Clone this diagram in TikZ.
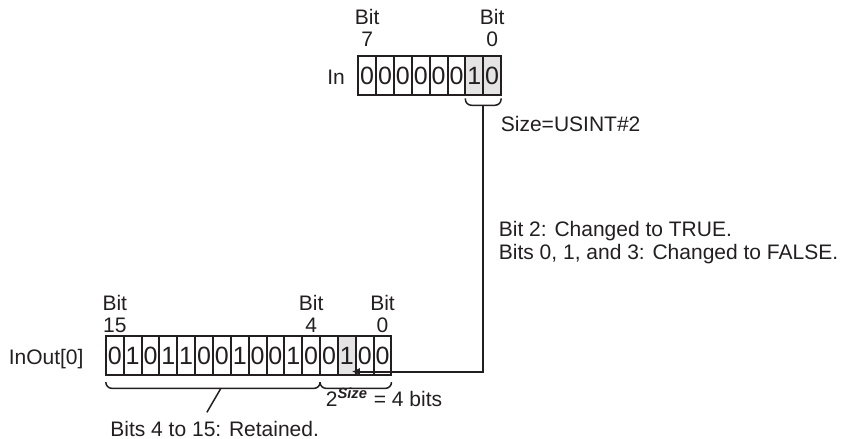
\documentclass[tikz,border=0pt]{standalone}
\usepackage{fontspec}
\setmainfont{Liberation Sans}
\usetikzlibrary{arrows.meta,positioning}
\definecolor{ink}{HTML}{231F20}
\definecolor{shade}{HTML}{E4E4E4}

\begin{document}
\begin{tikzpicture}[x=0.5pt,y=-0.5pt,font=\fontsize{10.5}{11}\selectfont,color=ink,
        cell/.style={draw=ink,line width=1pt,minimum width=8.925pt,minimum height=19.75pt,
          inner sep=0pt,outer sep=0pt,font=\fontsize{12.5}{13}\selectfont},
        bitlbl/.style={align=center,inner sep=0pt},
        lbl/.style={inner sep=0pt},
        brk/.style={line width=0.75pt,rounded corners=3pt},
        ln/.style={line width=0.75pt},
        a/.style={-{Latex[length=4pt,width=3.6pt]},line width=1pt}]
  \useasboundingbox (0,0) rectangle (842,439);
  % In: bit 7 on the left
  \node[cell] (in1) at (367.2,75.5) {0};
  \foreach \v/\f [count=\k from 2,remember=\k as \j (initially 1)] in
      {0/white,0/white,0/white,0/white,0/white,1/shade,0/shade}
    \node[cell,fill=\f,right=0pt of in\j] (in\k) {\v};
  \node[lbl,base left=6.5pt of in1] (inname) {In};
  \node[bitlbl,above=4.2pt of in1] (in7lbl) {Bit\\7};
  \node[bitlbl,above=4.2pt of in8] (in0lbl) {Bit\\0};
  \draw[brk] ([yshift=-1.5pt]in7.south west) -- ([yshift=-5pt]in7.south west)
    -- ([yshift=-5pt]in8.south east) -- ([yshift=-1.5pt]in8.south east);
  \coordinate (szmid) at ([yshift=-5pt]in7.south east);
  \node[lbl,anchor=base west] (sizelbl) at (500.5,131) {Size=USINT\#2};
  % InOut[0]: bit 15 on the left
  \node[cell] (out1) at (114.8,355.4) {0};
  \foreach \v/\f [count=\k from 2,remember=\k as \j (initially 1)] in
      {1/white,0/white,1/white,1/white,0/white,0/white,1/white,0/white,
       0/white,1/white,0/white,0/white,1/shade,0/white,0/white}
    \node[cell,fill=\f,right=0pt of out\j] (out\k) {\v};
  \node[lbl,base left=11pt of out1] (inoutname) {InOut[0]};
  \node[bitlbl,above=1.5pt of out1] (out15lbl) {Bit\\15};
  \node[bitlbl,above=1.5pt of out12] (out4lbl) {Bit\\4};
  \node[bitlbl,above=1.5pt of out16] (out0lbl) {Bit\\0};
  % size -> bit 2
  \coordinate (tip) at ([xshift=-2pt,yshift=1.8pt]out14.south east);
  \draw[a] (szmid) |- (tip);
  \node[lbl,anchor=north west,align=left,font=\fontsize{10.5}{11.5}\selectfont] (chglbl)
    at (498.5,221) {Bit 2: Changed to TRUE.\\Bits 0, 1, and 3: Changed to FALSE.};
  % brackets under InOut[0]
  \draw[brk] ([yshift=-3.5pt]out1.south west) -- ([yshift=-6.6pt]out1.south west)
    -- ([yshift=-6.6pt]out12.south east) -- ([yshift=-3.5pt]out12.south east);
  \draw[brk] ([yshift=-3.5pt]out13.south west) -- ([yshift=-6.6pt]out13.south west)
    -- ([yshift=-6.6pt]out16.south east) -- ([yshift=-3.5pt]out16.south east);
  \coordinate (rettop) at ([xshift=57.5pt,yshift=-6.6pt]out1.south west);
  \coordinate (retbot) at ([xshift=-7pt,yshift=-12pt]rettop);
  \draw[ln] (rettop) -- (retbot);
  \node[lbl,anchor=base west] (retlbl) at (110,436) {Bits 4 to 15: Retained.};
  \node[lbl,anchor=base west] (sizebits) at (325.5,406.5)
    {2\textsuperscript{\bfseries\itshape Size} = 4 bits};
\end{tikzpicture}
\end{document}
